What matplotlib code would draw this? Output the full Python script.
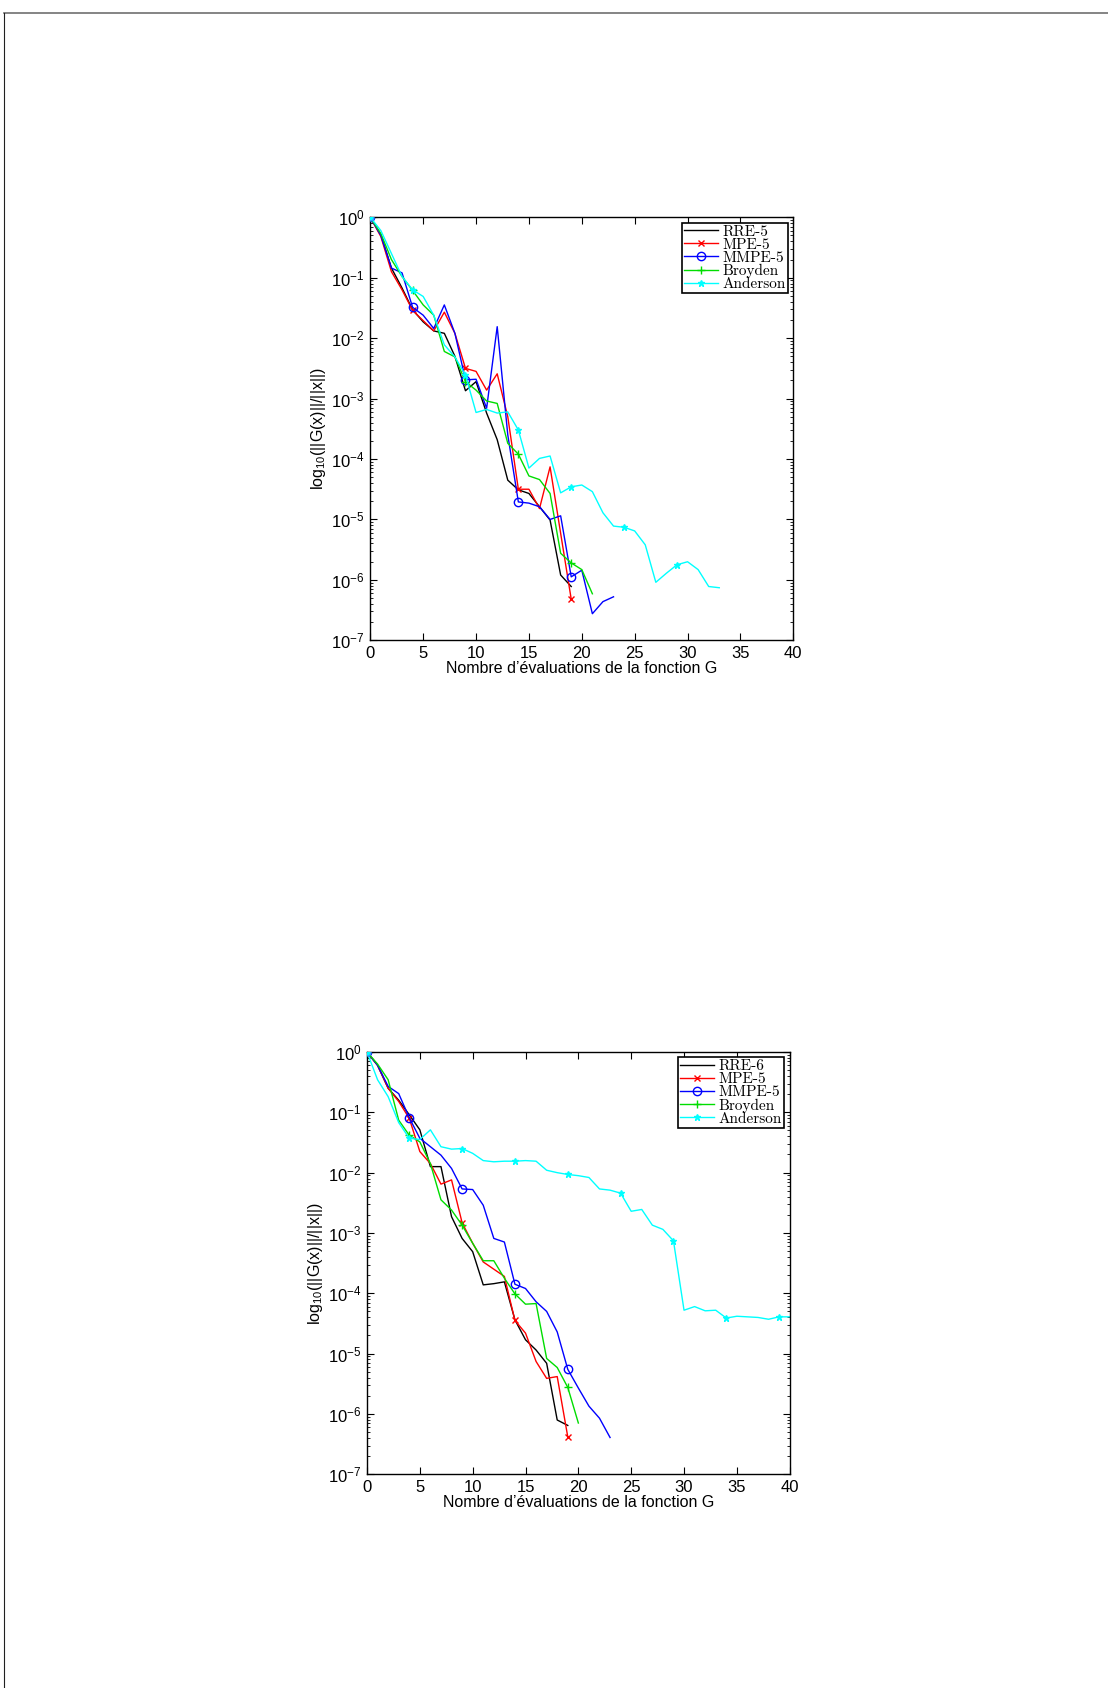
import matplotlib.pyplot as plt
import numpy as np
from matplotlib.lines import Line2D

plt.rcParams['font.family'] = ['Liberation Sans', 'DejaVu Sans']
plt.rcParams['mathtext.fontset'] = 'custom'
plt.rcParams['mathtext.rm'] = 'Liberation Sans'
plt.rcParams['mathtext.it'] = 'Liberation Sans:italic'

# iterations (x axis)
mark_idx = [0, 4, 9, 14, 19, 24, 29, 34, 39]

# ---- top plot: log10 of residual ----
rre5 = [0, -0.29, -0.84, -1.17, -1.53, -1.73, -1.88, -1.92, -2.30, -2.87, -2.72,
        -3.24, -3.68, -4.35, -4.51, -4.57, -4.79, -5.01, -5.92, -6.11]
mpe5 = [0, -0.32, -0.90, -1.20, -1.54, -1.71, -1.88, -1.57, -1.92, -2.50, -2.55,
        -2.86, -2.59, -3.30, -4.50, -4.50, -4.82, -4.13, -5.23, -6.32]
mmpe5 = [0, -0.30, -0.84, -0.92, -1.49, -1.62, -1.84, -1.45, -1.92, -2.69, -2.68,
         -3.16, -1.81, -3.60, -4.71, -4.73, -4.79, -5.00, -4.94, -5.95, -5.84,
         -6.56, -6.36, -6.28]
broyden_a = [0, -0.27, -0.70, -0.98, -1.21, -1.45, -1.62, -2.22, -2.31, -2.72, -2.86,
             -3.04, -3.08, -3.74, -3.92, -4.28, -4.34, -4.57, -5.56, -5.72, -5.83,
             -6.23]
anderson_a = [0, -0.22, -0.60, -0.98, -1.20, -1.31, -1.62, -2.11, -2.31, -2.61, -3.23,
              -3.18, -3.24, -3.22, -3.52, -4.15, -3.99, -3.95, -4.56, -4.46, -4.43,
              -4.54, -4.89, -5.11, -5.13, -5.19, -5.42, -6.04, -5.89, -5.75, -5.70,
              -5.83, -6.11, -6.13]

# ---- bottom plot ----
rre6 = [0, -0.22, -0.60, -0.80, -1.04, -1.29, -1.90, -1.90, -2.73, -3.09, -3.31,
        -3.86, -3.84, -3.81, -4.44, -4.77, -4.94, -5.16, -6.10, -6.19]
mpe5_b = [0, -0.22, -0.60, -0.82, -1.10, -1.65, -1.85, -2.19, -2.12, -2.83, -3.17,
          -3.48, -3.60, -3.72, -4.45, -4.66, -5.13, -5.41, -5.38, -6.38]
mmpe5_b = [0, -0.22, -0.57, -0.69, -1.09, -1.43, -1.57, -1.71, -1.93, -2.27, -2.28,
           -2.54, -3.09, -3.15, -3.85, -3.92, -4.14, -4.30, -4.64, -5.26, -5.57,
           -5.87, -6.07, -6.39]
broyden_b = [0, -0.20, -0.46, -1.13, -1.38, -1.49, -1.85, -2.45, -2.62, -2.87, -3.17,
             -3.46, -3.46, -3.75, -4.01, -4.18, -4.17, -5.08, -5.23, -5.56, -6.15]
anderson_b = [0, -0.46, -0.74, -1.17, -1.43, -1.45, -1.29, -1.57, -1.61, -1.60, -1.68,
              -1.80, -1.82, -1.81, -1.81, -1.80, -1.81, -1.96, -2.00, -2.03, -2.05,
              -2.08, -2.27, -2.29, -2.34, -2.64, -2.61, -2.87, -2.94, -3.13, -4.28,
              -4.22, -4.29, -4.28, -4.41, -4.38, -4.39, -4.40, -4.43, -4.39, -4.39]

top_labels = ['RRE-5', 'MPE-5', 'MMPE-5', 'Broyden', 'Anderson']
bot_labels = ['RRE-6', 'MPE-5', 'MMPE-5', 'Broyden', 'Anderson']

styles = [dict(color='black', marker=None),
          dict(color='red', marker='x', ms=4),
          dict(color='blue', marker='o', ms=6, mfc='none'),
          dict(color='#00dd00', marker='+', ms=6),
          dict(color='cyan', marker='*', ms=5)]

fig = plt.figure(figsize=(11.08, 16.88), dpi=100)

# page frame (top and left edges)
fig.add_artist(Line2D([4/1108, 1], [1-13/1688, 1-13/1688], color='#707070', lw=1.2))
fig.add_artist(Line2D([4/1108, 4/1108], [0, 1-13/1688], color='#202020', lw=0.8))


def draw(ax, series, labels):
    for y, lab, st in zip(series, labels, styles):
        y = np.array(y)
        x = np.arange(len(y))
        mk = [i for i in mark_idx if i < len(y)]
        st = dict(st)
        m = st.pop('marker')
        if m is None:
            ax.plot(x, 10**y, lw=1, label=lab, **st)
        else:
            ax.plot(x, 10**y, lw=1, label=lab, marker=m, markevery=mk, **st)
    ax.set_yscale('log')
    ax.set_xlim(0, 40)
    ax.set_ylim(1e-7, 1)
    ax.set_xticks(range(0, 41, 5))
    ax.set_yticks([10.0**k for k in range(-7, 1)])
    ax.tick_params(which='both', direction='in', top=True, right=True,
                   labelsize=12, pad=4)
    ax.tick_params(which='major', length=5)
    ax.tick_params(which='minor', length=2.5)
    for s in ax.spines.values():
        s.set_linewidth(1)
    ax.set_xlabel('Nombre d’évaluations de la fonction G', fontsize=11.5, labelpad=0)
    ax.set_ylabel(r'log$_{10}$(||G(x)||/||x||)', fontsize=11.5, labelpad=2)
    leg = ax.legend(loc='upper right', prop={'family': 'cmr10', 'size': 11},
                    fancybox=False, framealpha=1, edgecolor='black',
                    handlelength=2.2, handletextpad=0.3, labelspacing=-0.05,
                    borderpad=0.15, borderaxespad=0.35)
    leg.get_frame().set_linewidth(1.2)
    # first point marker (cyan dot at the origin)
    ax.plot([0], [1], marker='o', ms=5, color='cyan', mec='#3399ff', zorder=5)


ax1 = fig.add_axes([370.3/1108, 1-640.3/1688, 423/1108, 423/1688])
draw(ax1, [rre5, mpe5, mmpe5, broyden_a, anderson_a], top_labels)

ax2 = fig.add_axes([367/1108, 1-1474.3/1688, 422.7/1108, 422.3/1688])
draw(ax2, [rre6, mpe5_b, mmpe5_b, broyden_b, anderson_b], bot_labels)

fig.savefig('out.png', dpi=100)
